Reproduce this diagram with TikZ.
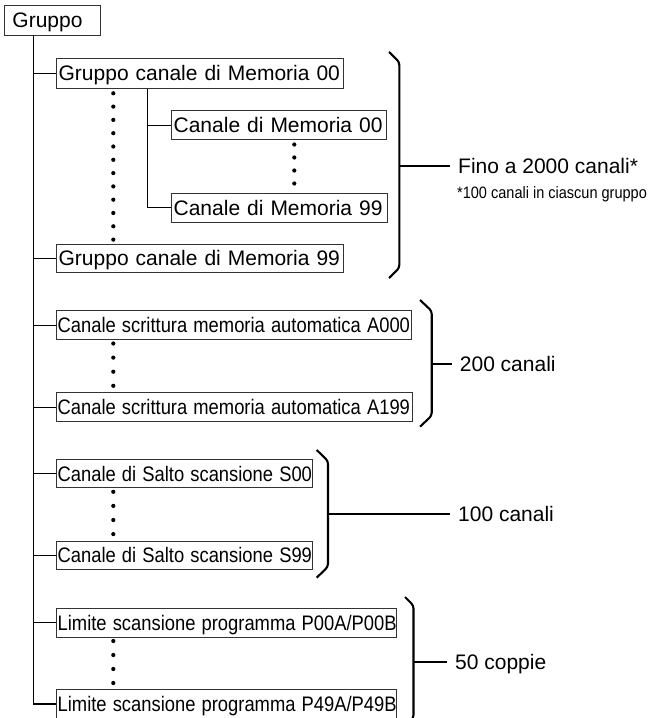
\documentclass[tikz,border=0pt]{standalone}
\usepackage{fontspec}
\usepackage{graphicx}
\setmainfont{Liberation Sans}
\newcommand\narrowtxt[1]{\scalebox{0.875}[1]{#1}}
\begin{document}
\begin{tikzpicture}[x=1pt,y=-1pt,
  box/.style={draw=black!80, line width=0.9pt, inner xsep=2.5pt, inner ysep=0pt,
    anchor=north west, align=left, text height=15pt, text depth=0pt,
    font=\fontsize{21}{24}\selectfont},
  nbox/.style={box, inner xsep=1.5pt},
  conn/.style={line width=1.2pt, black},
  brc/.style={line width=2.1pt, black, rounded corners=3pt},
  lbl/.style={inner xsep=8pt, inner ysep=0pt, anchor=west, text height=15pt, text depth=0pt,
    font=\fontsize{21}{24}\selectfont},
  note/.style={inner sep=0pt, anchor=west, text height=11pt, text depth=0pt,
    font=\fontsize{16.5}{18}\selectfont},
  dot/.style={black}]
\useasboundingbox (0,0) rectangle (665,718);

% boxes
\node[box, inner xsep=8pt, text width=80pt, minimum height=29.5pt] (gruppo) at (4,5) {\mbox{Gruppo}};
\node[box, text width=282.3pt, minimum height=29.4pt] (g00) at (55.7,58.3) {\mbox{Gruppo canale di Memoria 00}};
\node[box, text width=210.3pt, minimum height=29.3pt] (c00) at (170.7,110) {\mbox{Canale di Memoria 00}};
\node[box, text width=211pt, minimum height=29.8pt] (c99) at (170.7,192.5) {\mbox{Canale di Memoria 99}};
\node[box, text width=282.3pt, minimum height=27.5pt] (g99) at (55.7,244) {\mbox{Gruppo canale di Memoria 99}};
\node[nbox, text width=352.3pt, minimum height=29.3pt] (a000) at (55.7,310) {\narrowtxt{Canale scrittura memoria automatica A000}};
\node[nbox, text width=353pt, minimum height=29.3pt] (a199) at (55.7,392) {\narrowtxt{Canale scrittura memoria automatica A199}};
\node[nbox, text width=253.3pt, minimum height=28.3pt] (s00) at (55.7,459) {\narrowtxt{Canale di Salto scansione S00}};
\node[nbox, text width=253.3pt, minimum height=28.6pt] (s99) at (55.7,540.7) {\narrowtxt{Canale di Salto scansione S99}};
\node[nbox, text width=337pt, minimum height=29pt] (p00) at (55.7,607.7) {\narrowtxt{Limite scansione programma P00A/P00B}};
\node[nbox, text width=337pt, minimum height=29pt] (p49) at (55.7,689) {\narrowtxt{Limite scansione programma P49A/P49B}};

% tree connectors
\coordinate (tx) at (33.7,0);
\draw[conn] (tx |- gruppo.south) |- (p49.west);
\foreach \n in {g00,g99,a000,a199,s00,s99,p00}
  \draw[conn] (tx |- \n.west) -- (\n.west);
\coordinate (sx) at (147.3,0);
\draw[conn] (sx |- g00.south) |- (c99.west);
\draw[conn] (sx |- c00.west) -- (c00.west);

% dots
\foreach \k in {0,...,11} \fill[dot] (113.3,93.3+13.3*\k) circle (2.1);
\foreach \k in {0,...,3} {
  \fill[dot] (294.3,144.5+13*\k) circle (2.1);
  \fill[dot] (113.3,343.5+14.1*\k) circle (2.1);
  \fill[dot] (113.3,491.8+14.1*\k) circle (2.1);
  \fill[dot] (113.3,641+14*\k) circle (2.1);
}

% braces
\draw[brc] (389,52) -- (399.3,62) -- (399.3,268) -- (389,278);
\draw[brc] (420,300) -- (431.7,311) -- (431.7,415.7) -- (420,426.7);
\draw[brc] (316.7,450) -- (328,461) -- (328,566.7) -- (316.7,577.7);
\begin{scope}
  \clip (0,0) rectangle (665,718);
  \draw[brc] (405,597) -- (413.5,605.5) -- (413.5,717.9) -- (405,726.4);
\end{scope}

% labels
\coordinate (m1) at (399.3,165.7);
\coordinate (m2) at (431.7,364);
\coordinate (m3) at (328,513.5);
\coordinate (m4) at (413.5,661.7);
\node[lbl] (l1) at (450,165.7) {Fino a 2000 canali*};
\node[note] (n1) at (457,193) {\scalebox{0.88}[1]{*100 canali in ciascun gruppo}};
\node[lbl] (l2) at (451.7,364) {200 canali};
\node[lbl] (l3) at (450,513.5) {100 canali};
\node[lbl] (l4) at (447,661.7) {50 coppie};
\draw[line width=2pt] (m1) -- (l1.west);
\draw[line width=2pt] (m2) -- (l2.west);
\draw[line width=2pt] (m3) -- (l3.west);
\draw[line width=2pt] (m4) -- (l4.west);
\end{tikzpicture}
\end{document}
